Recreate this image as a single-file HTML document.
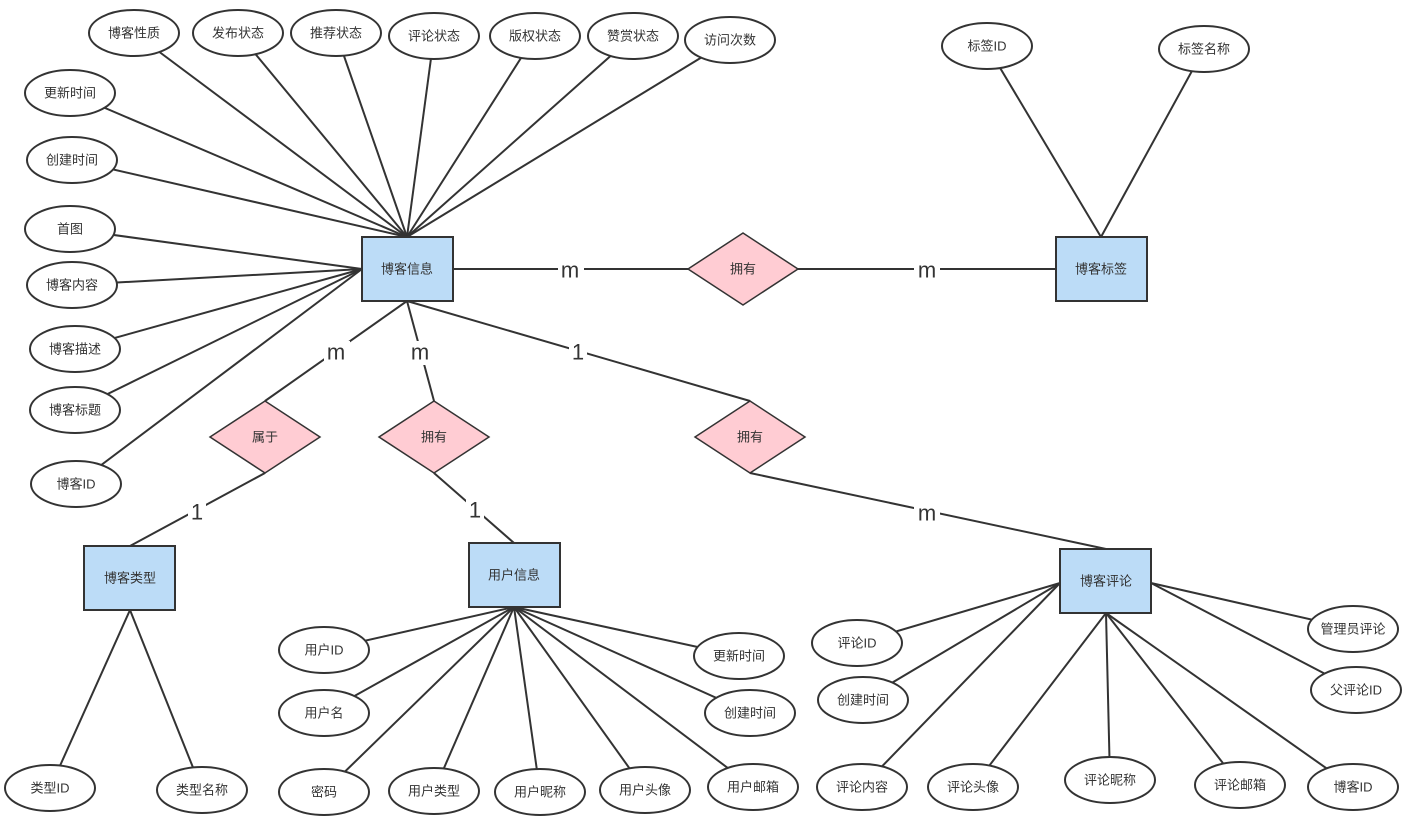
<!DOCTYPE html>
<html><head><meta charset="utf-8"><style>
html,body{margin:0;padding:0;background:#fff;}
svg text{font-family:"Liberation Sans","Noto Sans CJK SC",sans-serif;font-size:13px;fill:#333;text-anchor:middle;dominant-baseline:central;}
.l{stroke:#333;stroke-width:2;fill:none}
.e{fill:#fff;stroke:#333;stroke-width:2}
.r{fill:#bcdcf7;stroke:#333;stroke-width:2}
.d{fill:#ffccd3;stroke:#333;stroke-width:1.5}
.c{font-size:22px;fill:#333}
</style></head><body>
<svg width="1411" height="827" xmlns="http://www.w3.org/2000/svg">
<g class="l">
<!-- blog info attrs -->
<line x1="134" y1="33" x2="407" y2="237"/><line x1="238" y1="33" x2="407" y2="237"/><line x1="336" y1="33" x2="407" y2="237"/>
<line x1="434" y1="36" x2="407" y2="237"/><line x1="535" y1="36" x2="407" y2="237"/><line x1="633" y1="36" x2="407" y2="237"/>
<line x1="730" y1="40" x2="407" y2="237"/><line x1="70" y1="93" x2="407" y2="237"/><line x1="72" y1="160" x2="407" y2="237"/>
<line x1="70" y1="229" x2="362" y2="269"/><line x1="72" y1="285" x2="362" y2="269"/><line x1="75" y1="349" x2="362" y2="269"/>
<line x1="75" y1="410" x2="362" y2="269"/><line x1="76" y1="484" x2="362" y2="269"/>
<!-- relationships -->
<line x1="453" y1="269" x2="1056" y2="269"/>
<line x1="987" y1="46" x2="1101" y2="237"/><line x1="1204" y1="49" x2="1101" y2="237"/>
<line x1="407" y1="301" x2="265" y2="401"/><line x1="265" y1="473" x2="130" y2="546"/>
<line x1="407" y1="301" x2="434" y2="401"/><line x1="434" y1="473" x2="514" y2="543"/>
<line x1="407" y1="301" x2="750" y2="401"/><line x1="750" y1="473" x2="1106" y2="549"/>
<line x1="130" y1="610" x2="50" y2="788"/><line x1="130" y1="610" x2="202" y2="790"/>
<!-- user attrs -->
<line x1="514" y1="607" x2="324" y2="650"/><line x1="514" y1="607" x2="324" y2="713"/><line x1="514" y1="607" x2="324" y2="792"/>
<line x1="514" y1="607" x2="434" y2="791"/><line x1="514" y1="607" x2="540" y2="792"/><line x1="514" y1="607" x2="645" y2="790"/>
<line x1="514" y1="607" x2="753" y2="787"/><line x1="514" y1="607" x2="739" y2="656"/><line x1="514" y1="607" x2="750" y2="713"/>
<!-- comment attrs -->
<line x1="1060" y1="583" x2="857" y2="643"/><line x1="1060" y1="583" x2="863" y2="700"/><line x1="1060" y1="583" x2="862" y2="787"/>
<line x1="1106" y1="613" x2="973" y2="787"/><line x1="1106" y1="613" x2="1110" y2="780"/><line x1="1106" y1="613" x2="1240" y2="785"/>
<line x1="1106" y1="613" x2="1353" y2="787"/><line x1="1151" y1="583" x2="1353" y2="629"/><line x1="1151" y1="583" x2="1356" y2="690"/>
</g>
<g class="e">
<ellipse cx="134" cy="33" rx="45" ry="23"/><ellipse cx="238" cy="33" rx="45" ry="23"/><ellipse cx="336" cy="33" rx="45" ry="23"/>
<ellipse cx="434" cy="36" rx="45" ry="23"/><ellipse cx="535" cy="36" rx="45" ry="23"/><ellipse cx="633" cy="36" rx="45" ry="23"/>
<ellipse cx="730" cy="40" rx="45" ry="23"/><ellipse cx="70" cy="93" rx="45" ry="23"/><ellipse cx="72" cy="160" rx="45" ry="23"/>
<ellipse cx="70" cy="229" rx="45" ry="23"/><ellipse cx="72" cy="285" rx="45" ry="23"/><ellipse cx="75" cy="349" rx="45" ry="23"/>
<ellipse cx="75" cy="410" rx="45" ry="23"/><ellipse cx="76" cy="484" rx="45" ry="23"/>
<ellipse cx="987" cy="46" rx="45" ry="23"/><ellipse cx="1204" cy="49" rx="45" ry="23"/>
<ellipse cx="50" cy="788" rx="45" ry="23"/><ellipse cx="202" cy="790" rx="45" ry="23"/>
<ellipse cx="324" cy="650" rx="45" ry="23"/><ellipse cx="324" cy="713" rx="45" ry="23"/><ellipse cx="324" cy="792" rx="45" ry="23"/>
<ellipse cx="434" cy="791" rx="45" ry="23"/><ellipse cx="540" cy="792" rx="45" ry="23"/><ellipse cx="645" cy="790" rx="45" ry="23"/>
<ellipse cx="753" cy="787" rx="45" ry="23"/><ellipse cx="739" cy="656" rx="45" ry="23"/><ellipse cx="750" cy="713" rx="45" ry="23"/>
<ellipse cx="857" cy="643" rx="45" ry="23"/><ellipse cx="863" cy="700" rx="45" ry="23"/><ellipse cx="862" cy="787" rx="45" ry="23"/>
<ellipse cx="973" cy="787" rx="45" ry="23"/><ellipse cx="1110" cy="780" rx="45" ry="23"/><ellipse cx="1240" cy="785" rx="45" ry="23"/>
<ellipse cx="1353" cy="787" rx="45" ry="23"/><ellipse cx="1353" cy="629" rx="45" ry="23"/><ellipse cx="1356" cy="690" rx="45" ry="23"/>
</g>
<rect class="r" x="362" y="237" width="91" height="64"/>
<rect class="r" x="1056" y="237" width="91" height="64"/>
<rect class="r" x="84" y="546" width="91" height="64"/>
<rect class="r" x="469" y="543" width="91" height="64"/>
<rect class="r" x="1060" y="549" width="91" height="64"/>
<polygon class="d" points="688,269 743,233 798,269 743,305"/>
<polygon class="d" points="210,437 265,401 320,437 265,473"/>
<polygon class="d" points="379,437 434,401 489,437 434,473"/>
<polygon class="d" points="695,437 750,401 805,437 750,473"/>
<text x="134" y="33">博客性质</text><text x="238" y="33">发布状态</text><text x="336" y="33">推荐状态</text>
<text x="434" y="36">评论状态</text><text x="535" y="36">版权状态</text><text x="633" y="36">赞赏状态</text>
<text x="730" y="40">访问次数</text><text x="70" y="93">更新时间</text><text x="72" y="160">创建时间</text>
<text x="70" y="229">首图</text><text x="72" y="285">博客内容</text><text x="75" y="349">博客描述</text>
<text x="75" y="410">博客标题</text><text x="76" y="484">博客ID</text>
<text x="987" y="46">标签ID</text><text x="1204" y="49">标签名称</text>
<text x="50" y="788">类型ID</text><text x="202" y="790">类型名称</text>
<text x="324" y="650">用户ID</text><text x="324" y="713">用户名</text><text x="324" y="792">密码</text>
<text x="434" y="791">用户类型</text><text x="540" y="792">用户昵称</text><text x="645" y="790">用户头像</text>
<text x="753" y="787">用户邮箱</text><text x="739" y="656">更新时间</text><text x="750" y="713">创建时间</text>
<text x="857" y="643">评论ID</text><text x="863" y="700">创建时间</text><text x="862" y="787">评论内容</text>
<text x="973" y="787">评论头像</text><text x="1110" y="780">评论昵称</text><text x="1240" y="785">评论邮箱</text>
<text x="1353" y="787">博客ID</text><text x="1353" y="629">管理员评论</text><text x="1356" y="690">父评论ID</text>
<text x="407" y="269">博客信息</text><text x="1101" y="269">博客标签</text><text x="130" y="578">博客类型</text>
<text x="514" y="575">用户信息</text><text x="1106" y="581">博客评论</text>
<text x="743" y="269">拥有</text><text x="265" y="437">属于</text><text x="434" y="437">拥有</text><text x="750" y="437">拥有</text>
<g>
<rect x="558" y="258" width="26" height="24" fill="#fff"/><text class="c" x="570" y="270">m</text>
<rect x="914" y="258" width="26" height="24" fill="#fff"/><text class="c" x="927" y="270">m</text>
<rect x="324" y="341" width="26" height="24" fill="#fff"/><text class="c" x="336" y="352">m</text>
<rect x="408" y="341" width="26" height="24" fill="#fff"/><text class="c" x="420" y="352">m</text>
<rect x="569" y="340" width="18" height="24" fill="#fff"/><text class="c" x="578" y="352">1</text>
<rect x="188" y="500" width="18" height="24" fill="#fff"/><text class="c" x="197" y="512">1</text>
<rect x="466" y="498" width="18" height="24" fill="#fff"/><text class="c" x="475" y="510">1</text>
<rect x="914" y="502" width="26" height="24" fill="#fff"/><text class="c" x="927" y="513">m</text>
</g>
</svg>
</body></html>
